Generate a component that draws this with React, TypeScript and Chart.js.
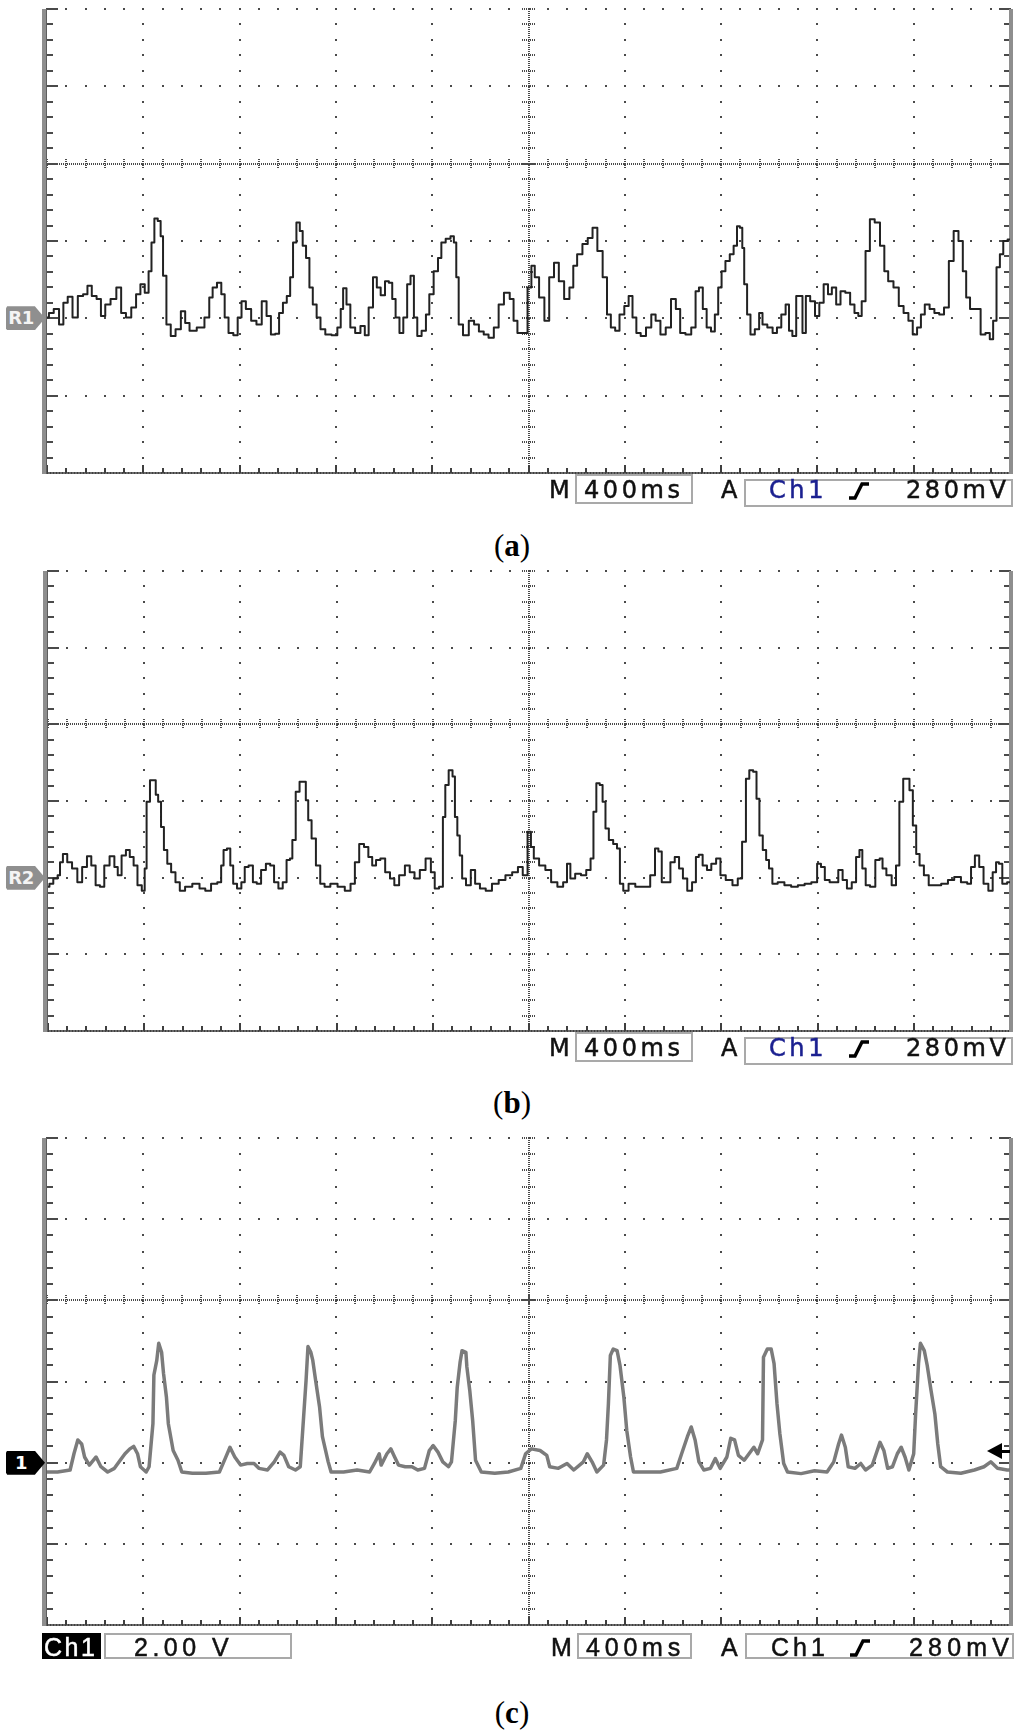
import { useEffect, useRef } from "react";
import { Chart, registerables } from "chart.js";

Chart.register(...registerables);

// ---------------- data (time in divisions of 400 ms, level in vertical divisions) ----------------
const aTime = [
  0, 0.04, 0.1, 0.15, 0.19, 0.24, 0.29, 0.35, 0.4, 0.44,
  0.49, 0.54, 0.58, 0.63, 0.69, 0.75, 0.79, 0.85, 0.9, 0.95,
  0.99, 1.04, 1.07, 1.1, 1.13, 1.17, 1.19, 1.22, 1.26, 1.31,
  1.36, 1.42, 1.45, 1.51, 1.6, 1.67, 1.7, 1.74, 1.79, 1.83,
  1.86, 1.91, 1.96, 2.0, 2.04, 2.09, 2.15, 2.2, 2.26, 2.3,
  2.35, 2.39, 2.43, 2.47, 2.51, 2.54, 2.57, 2.61, 2.64, 2.67,
  2.71, 2.74, 2.78, 2.82, 2.86, 2.92, 2.99, 3.04, 3.06, 3.09,
  3.13, 3.17, 3.23, 3.28, 3.32, 3.36, 3.41, 3.44, 3.49, 3.53,
  3.57, 3.6, 3.64, 3.68, 3.72, 3.76, 3.79, 3.83, 3.86, 3.92,
  3.95, 3.99, 4.04, 4.08, 4.11, 4.17, 4.21, 4.24, 4.26, 4.29,
  4.35, 4.41, 4.46, 4.51, 4.56, 4.61, 4.67, 4.71, 4.78, 4.83,
  4.86, 4.91, 4.97, 5.01, 5.05, 5.08, 5.14, 5.19, 5.24, 5.29,
  5.34, 5.4, 5.45, 5.48, 5.53, 5.59, 5.64, 5.69, 5.74, 5.8,
  5.83, 5.88, 5.92, 5.97, 6.02, 6.06, 6.1, 6.14, 6.19, 6.25,
  6.3, 6.34, 6.4, 6.45, 6.51, 6.55, 6.6, 6.66, 6.72, 6.75,
  6.79, 6.83, 6.87, 6.92, 6.95, 6.99, 7.02, 7.07, 7.11, 7.15,
  7.18, 7.21, 7.23, 7.25, 7.29, 7.32, 7.38, 7.41, 7.45, 7.51,
  7.56, 7.6, 7.65, 7.69, 7.72, 7.76, 7.8, 7.83, 7.86, 7.9,
  7.95, 8.0, 8.04, 8.09, 8.13, 8.17, 8.22, 8.26, 8.32, 8.36,
  8.41, 8.44, 8.48, 8.52, 8.57, 8.62, 8.68, 8.71, 8.76, 8.82,
  8.87, 8.92, 8.97, 9.01, 9.06, 9.09, 9.14, 9.19, 9.24, 9.29,
  9.34, 9.39, 9.44, 9.49, 9.53, 9.56, 9.61, 9.67, 9.72, 9.77,
  9.81, 9.84, 9.88, 9.91, 9.95, 10,
];
const aLevel = [
  0.01, 0.07, 0.12, -0.08, 0.2, 0.28, 0.01, 0.29, 0.31, 0.42,
  0.29, 0.25, 0.03, 0.18, 0.25, 0.4, 0.07, 0.01, 0.14, 0.31,
  0.44, 0.33, 0.61, 0.98, 1.29, 1.26, 1.06, 0.55, -0.08, -0.23,
  -0.14, 0.09, -0.06, -0.16, -0.12, 0.01, 0.27, 0.4, 0.46, 0.31,
  0.01, -0.19, -0.22, 0.01, 0.22, 0.12, -0.03, -0.08, 0.22, 0.03,
  -0.21, -0.2, 0.07, 0.2, 0.29, 0.53, 0.98, 1.24, 1.13, 0.94,
  0.78, 0.4, 0.18, 0.01, -0.14, -0.21, -0.22, -0.12, 0.12, 0.39,
  0.18, -0.12, -0.19, -0.1, -0.22, 0.14, 0.53, 0.4, 0.3, 0.48,
  0.46, 0.25, 0.01, -0.19, 0.01, 0.44, 0.55, 0.01, -0.23, -0.16,
  0.05, 0.31, 0.61, 0.78, 0.98, 1.03, 1.06, 0.98, 0.53, -0.08,
  -0.22, -0.03, -0.08, -0.17, -0.21, -0.25, -0.12, 0.18, 0.33, 0.25,
  -0.03, -0.19, -0.19, 0.4, 0.68, 0.53, 0.27, -0.03, 0.53, 0.72,
  0.48, 0.25, 0.4, 0.68, 0.83, 0.96, 1.04, 1.17, 0.87, 0.53,
  0.05, -0.12, -0.16, 0.05, 0.16, 0.29, 0.01, -0.19, -0.23, -0.12,
  0.05, -0.03, -0.21, -0.12, 0.25, 0.12, -0.19, -0.21, -0.12, 0.35,
  0.4, 0.12, -0.12, -0.17, 0.05, 0.4, 0.61, 0.74, 0.83, 0.94,
  1.19, 1.17, 0.91, 0.44, 0.05, -0.21, -0.14, 0.07, -0.08, -0.12,
  -0.19, -0.12, 0.05, 0.18, -0.16, -0.23, 0.29, 0.29, -0.19, 0.29,
  0.22, 0.03, 0.2, 0.44, 0.31, 0.4, 0.18, 0.35, 0.33, 0.18,
  0.07, 0.03, 0.22, 0.87, 1.28, 1.24, 0.94, 0.61, 0.48, 0.4,
  0.16, 0.07, -0.03, -0.21, -0.12, 0.05, 0.18, 0.12, 0.07, 0.05,
  0.14, 0.74, 1.13, 1.0, 0.61, 0.27, 0.12, 0.12, -0.21, -0.19,
  -0.27, -0.03, 0.66, 0.83, 1.0, 1.02,
];

const bTime = [
  0, 0.03, 0.08, 0.12, 0.13, 0.18, 0.22, 0.28, 0.33, 0.38,
  0.43, 0.47, 0.52, 0.56, 0.61, 0.67, 0.71, 0.74, 0.79, 0.83,
  0.87, 0.91, 0.95, 1.0, 1.01, 1.04, 1.08, 1.11, 1.13, 1.16,
  1.19, 1.22, 1.26, 1.3, 1.35, 1.39, 1.46, 1.54, 1.61, 1.66,
  1.73, 1.79, 1.81, 1.84, 1.88, 1.91, 1.94, 1.99, 2.03, 2.06,
  2.11, 2.15, 2.19, 2.24, 2.29, 2.33, 2.37, 2.42, 2.46, 2.5,
  2.53, 2.55, 2.6, 2.63, 2.67, 2.69, 2.72, 2.76, 2.81, 2.85,
  2.9, 2.97, 3.05, 3.12, 3.17, 3.21, 3.26, 3.31, 3.35, 3.39,
  3.43, 3.48, 3.53, 3.58, 3.62, 3.68, 3.74, 3.78, 3.84, 3.89,
  3.96, 4.0, 4.04, 4.09, 4.12, 4.14, 4.19, 4.22, 4.24, 4.27,
  4.29, 4.32, 4.37, 4.42, 4.46, 4.52, 4.58, 4.65, 4.72, 4.79,
  4.86, 4.91, 4.96, 5.01, 5.03, 5.07, 5.14, 5.2, 5.26, 5.33,
  5.38, 5.41, 5.45, 5.51, 5.57, 5.62, 5.66, 5.68, 5.72, 5.75,
  5.78, 5.81, 5.85, 5.9, 5.93, 5.96, 6.0, 6.07, 6.14, 6.23,
  6.29, 6.33, 6.36, 6.4, 6.45, 6.49, 6.54, 6.58, 6.62, 6.67,
  6.72, 6.75, 6.78, 6.83, 6.87, 6.92, 6.97, 7.01, 7.08, 7.15,
  7.19, 7.24, 7.27, 7.31, 7.35, 7.38, 7.41, 7.45, 7.48, 7.51,
  7.55, 7.62, 7.69, 7.76, 7.83, 7.9, 7.97, 8.02, 8.05, 8.1,
  8.15, 8.19, 8.24, 8.28, 8.33, 8.38, 8.42, 8.45, 8.48, 8.52,
  8.57, 8.63, 8.66, 8.69, 8.74, 8.8, 8.83, 8.87, 8.91, 8.94,
  8.97, 9.01, 9.04, 9.08, 9.13, 9.18, 9.25, 9.32, 9.39, 9.45,
  9.53, 9.58, 9.61, 9.66, 9.7, 9.75, 9.8, 9.84, 9.87, 9.9,
  9.94, 10,
];
const bLevel = [
  -0.12, -0.08, -0.01, 0.03, 0.2, 0.31, 0.2, 0.12, -0.06, 0.14,
  0.28, 0.16, -0.1, -0.12, 0.16, 0.28, 0.14, 0.03, 0.29, 0.36,
  0.27, 0.16, -0.1, -0.17, 0.12, 0.99, 1.27, 1.27, 1.08, 0.99,
  0.66, 0.36, 0.18, 0.07, -0.06, -0.17, -0.12, -0.08, -0.14, -0.17,
  -0.08, -0.06, 0.16, 0.36, 0.38, 0.16, -0.08, -0.14, -0.06, 0.14,
  0.16, -0.06, -0.08, 0.1, 0.18, 0.16, -0.06, -0.14, -0.06, 0.23,
  0.25, 0.49, 1.12, 1.25, 1.25, 1.01, 0.75, 0.51, 0.16, -0.08,
  -0.12, -0.08, -0.12, -0.17, -0.08, 0.2, 0.44, 0.4, 0.27, 0.16,
  0.23, 0.25, 0.07, -0.01, -0.1, 0.03, 0.16, 0.07, -0.01, 0.1,
  0.25, 0.07, -0.14, -0.12, 0.79, 1.21, 1.4, 1.32, 0.79, 0.55,
  0.29, -0.01, -0.1, 0.1, -0.08, -0.14, -0.17, -0.08, -0.03, 0.03,
  0.07, 0.14, 0.03, 0.6, 0.4, 0.25, 0.16, 0.1, -0.06, -0.12,
  -0.06, 0.18, -0.01, 0.05, 0.03, 0.1, 0.25, 0.86, 1.23, 1.21,
  0.99, 0.64, 0.49, 0.44, 0.38, -0.08, -0.17, -0.08, -0.12, -0.12,
  0.03, 0.38, 0.34, -0.06, -0.06, 0.2, 0.27, 0.12, -0.01, -0.17,
  -0.06, 0.27, 0.3, 0.16, 0.1, 0.18, 0.25, 0.03, -0.03, -0.1,
  -0.01, 0.47, 1.29, 1.4, 1.38, 1.03, 0.55, 0.36, 0.23, 0.12,
  -0.08, -0.06, -0.1, -0.12, -0.1, -0.08, -0.06, 0.18, 0.14, -0.03,
  -0.06, -0.06, 0.1, -0.03, -0.14, -0.06, 0.27, 0.36, 0.12, -0.1,
  -0.12, 0.23, 0.25, 0.12, 0.03, -0.1, 0.16, 0.99, 1.29, 1.29,
  1.14, 0.68, 0.31, 0.16, 0.03, -0.1, -0.1, -0.08, -0.03, 0.01,
  -0.06, -0.08, 0.14, 0.29, 0.14, -0.08, -0.17, 0.07, 0.2, 0.18,
  -0.08, -0.06,
];

const cTime = [
  0, 0.11, 0.24, 0.28, 0.32, 0.36, 0.39, 0.44, 0.51, 0.56,
  0.63, 0.7, 0.76, 0.81, 0.86, 0.9, 0.94, 0.97, 1.03, 1.06,
  1.1, 1.11, 1.14, 1.16, 1.19, 1.21, 1.24, 1.26, 1.31, 1.36,
  1.4, 1.51, 1.65, 1.79, 1.85, 1.9, 1.95, 2.01, 2.08, 2.15,
  2.2, 2.29, 2.36, 2.42, 2.46, 2.51, 2.58, 2.63, 2.66, 2.69,
  2.71, 2.74, 2.76, 2.79, 2.83, 2.86, 2.92, 2.95, 3.08, 3.22,
  3.35, 3.4, 3.45, 3.47, 3.53, 3.57, 3.61, 3.65, 3.72, 3.79,
  3.85, 3.92, 3.97, 4.01, 4.06, 4.11, 4.17, 4.2, 4.24, 4.26,
  4.29, 4.31, 4.35, 4.36, 4.39, 4.42, 4.45, 4.51, 4.65, 4.79,
  4.92, 4.97, 5.03, 5.12, 5.19, 5.22, 5.31, 5.4, 5.47, 5.57,
  5.61, 5.66, 5.71, 5.78, 5.81, 5.83, 5.85, 5.88, 5.92, 5.95,
  5.99, 6.02, 6.06, 6.09, 6.23, 6.37, 6.54, 6.59, 6.65, 6.69,
  6.73, 6.77, 6.82, 6.89, 6.94, 6.99, 7.06, 7.1, 7.14, 7.18,
  7.24, 7.29, 7.34, 7.38, 7.43, 7.44, 7.48, 7.52, 7.55, 7.58,
  7.61, 7.65, 7.69, 7.83, 7.97, 8.1, 8.17, 8.22, 8.25, 8.29,
  8.32, 8.39, 8.45, 8.5, 8.57, 8.61, 8.65, 8.69, 8.73, 8.78,
  8.83, 8.87, 8.91, 8.95, 9.0, 9.02, 9.05, 9.07, 9.11, 9.14,
  9.18, 9.22, 9.25, 9.28, 9.35, 9.49, 9.63, 9.73, 9.8, 9.87,
  9.97, 10,
];
const cLevel = [
  -0.115, -0.115, -0.09, 0.11, 0.28, 0.23, 0.07, -0.03, 0.07, -0.05,
  -0.115, -0.07, 0.03, 0.11, 0.17, 0.2, 0.11, -0.05, -0.115, -0.05,
  0.48, 1.08, 1.26, 1.47, 1.36, 1.1, 0.81, 0.48, 0.15, 0.03,
  -0.115, -0.13, -0.13, -0.115, 0.05, 0.19, 0.07, -0.03, -0.01, -0.01,
  -0.07, -0.09, 0.01, 0.13, 0.09, -0.05, -0.09, -0.05, 0.48, 1.01,
  1.43, 1.36, 1.26, 1.01, 0.69, 0.32, 0.01, -0.115, -0.115, -0.09,
  -0.115, -0.01, 0.11, -0.03, 0.11, 0.17, 0.07, -0.03, -0.05, -0.05,
  -0.09, -0.07, 0.15, 0.21, 0.13, 0.01, -0.05, 0.01, 0.52, 0.93,
  1.24, 1.38, 1.36, 1.18, 0.89, 0.52, 0.03, -0.115, -0.13, -0.115,
  -0.07, 0.11, 0.17, 0.15, 0.09, -0.05, -0.07, -0.01, -0.09, 0.01,
  0.11, 0.01, -0.115, -0.03, 0.28, 0.73, 1.32, 1.4, 1.38, 1.2,
  0.81, 0.4, 0.07, -0.115, -0.115, -0.115, -0.07, 0.11, 0.32, 0.44,
  0.28, 0.01, -0.09, -0.07, 0.05, -0.07, 0.07, 0.3, 0.28, 0.09,
  0.03, 0.11, 0.19, 0.11, 0.28, 1.3, 1.4, 1.4, 1.22, 0.73,
  0.36, -0.01, -0.115, -0.135, -0.1, -0.115, 0.01, 0.23, 0.34, 0.19,
  -0.05, -0.07, -0.01, -0.09, -0.03, 0.11, 0.25, 0.15, -0.07, -0.05,
  0.11, 0.19, 0.07, -0.09, 0.11, 0.6, 1.22, 1.47, 1.38, 1.2,
  0.89, 0.6, 0.23, -0.05, -0.115, -0.13, -0.09, -0.05, 0.01, -0.07,
  -0.09, -0.09,
];

// trigger level of Ch1 (280 mV at 2.00 V/div) in divisions
const cTriggerLevel = 0.28 / 2.0;

// ---------------- axes ----------------
const X_MIN = 0;
const X_MAX = 10;
const Y_MIN = -2;
const Y_MAX = 4;
const X_CENTER = 5;
const Y_CENTER = 2;
const MINOR = 5;

type Panel = { left: number; right: number; top: number; bottom: number };
const PANEL_A: Panel = { left: 47, right: 1010, top: 9, bottom: 473 };
const PANEL_B: Panel = { left: 48, right: 1010, top: 571, bottom: 1031 };
const PANEL_C: Panel = { left: 47, right: 1010, top: 1138, bottom: 1625 };
const PAD = 10;
const PAGE_W = 1024;

const scopeGrid = {
  id: "scopeGrid",
  beforeDatasetsDraw(chart: any) {
    const { ctx, chartArea: a, scales } = chart;
    const xs = scales.x;
    const ys = scales.y;
    const px = (v: number) => Math.round(xs.getPixelForValue(v));
    const py = (v: number) => Math.round(ys.getPixelForValue(v));
    const nx = (X_MAX - X_MIN) * MINOR;
    const ny = (Y_MAX - Y_MIN) * MINOR;
    ctx.save();
    ctx.fillStyle = "#4a4a4a";
    // regular vertical grid lines (dotted)
    for (let g = X_MIN + 1; g < X_MAX; g++) {
      if (g === X_CENTER) continue;
      const x = px(g);
      for (let k = 0; k <= ny; k++) ctx.fillRect(x - 1, py(Y_MIN + k / MINOR) - 1, 2, 2);
    }
    // regular horizontal grid lines (dotted), top edge included
    for (let g = Y_MIN + 1; g <= Y_MAX; g++) {
      if (g === Y_CENTER) continue;
      const y = py(g);
      for (let k = 0; k <= nx; k++) ctx.fillRect(px(X_MIN + k / MINOR) - 1, y - 1, 2, 2);
    }
    // centre vertical line with cross ticks
    const cx = px(X_CENTER);
    for (let y = a.top; y <= a.bottom; y += 2) ctx.fillRect(cx - 1, y, 2, 1);
    for (let k = 0; k <= ny; k++) {
      const y = py(Y_MIN + k / MINOR);
      for (let d = -7; d <= 6; d += 2) ctx.fillRect(cx + d, y - 1, 1, 2);
    }
    // centre horizontal line with cross ticks
    const cy = py(Y_CENTER);
    for (let x = a.left; x <= a.right; x += 2) ctx.fillRect(x, cy - 1, 1, 2);
    for (let k = 0; k <= nx; k++) {
      const x = px(X_MIN + k / MINOR);
      for (let d = -5; d <= 4; d += 2) ctx.fillRect(x - 1, cy + d, 2, 1);
    }
    // left / right edge ticks
    for (let k = 0; k <= ny; k++) {
      const y = py(Y_MIN + k / MINOR);
      const len = k % MINOR === 0 ? 11 : 6;
      ctx.fillRect(a.left, y - 1, len, 2);
      ctx.fillRect(a.right - len, y - 1, len, 2);
    }
    // bottom edge with ticks
    ctx.fillStyle = "#6a6a6a";
    ctx.fillRect(a.left, a.bottom - 1, a.right - a.left, 2);
    ctx.fillStyle = "#3f3f3f";
    for (let x = a.left; x <= a.right; x += 3) ctx.fillRect(x, a.bottom - 1, 1, 2);
    for (let k = 0; k <= nx; k++) {
      const x = px(X_MIN + k / MINOR);
      ctx.fillRect(x - 1, a.bottom - (k % MINOR === 0 ? 8 : 5), 2, k % MINOR === 0 ? 8 : 5);
    }
    // thick side frames
    ctx.fillStyle = "#8e8e8e";
    ctx.fillRect(a.left - 5, a.top, 5, a.bottom - a.top + 1);
    ctx.fillRect(a.right - 1, a.top, 4, a.bottom - a.top + 1);
    ctx.fillStyle = "#5e5e5e";
    ctx.fillRect(a.left - 1, a.top, 1, a.bottom - a.top + 1);
    ctx.restore();
  },
  afterDatasetsDraw(chart: any, _args: any, opts: any) {
    if (opts == null || opts.trigger == null) return;
    const { ctx, chartArea: a, scales } = chart;
    const y = Math.round(scales.y.getPixelForValue(opts.trigger));
    ctx.save();
    ctx.fillStyle = "#000";
    ctx.beginPath();
    ctx.moveTo(a.right - 23, y);
    ctx.lineTo(a.right - 8, y - 8);
    ctx.lineTo(a.right - 8, y + 8);
    ctx.closePath();
    ctx.fill();
    ctx.fillRect(a.right - 10, y - 1, 10, 3);
    ctx.restore();
  },
};

type ScopeProps = {
  panel: Panel;
  time: number[];
  level: number[];
  color: string;
  width: number;
  stepped: false | "middle";
  trigger?: number | null;
};

function ScopeChart({ panel, time, level, color, width, stepped, trigger = null }: ScopeProps) {
  const ref = useRef<HTMLCanvasElement | null>(null);
  const h = panel.bottom - panel.top + 2 * PAD;
  useEffect(() => {
    if (!ref.current) return;
    const chart = new Chart(ref.current, {
      type: "line",
      data: {
        datasets: [
          {
            data: time.map((t, i) => ({ x: t, y: level[i] })),
            borderColor: color,
            borderWidth: width,
            pointRadius: 0,
            tension: 0,
            stepped: stepped,
            fill: false,
            borderJoinStyle: "round",
          } as any,
        ],
      },
      options: {
        animation: false,
        responsive: false,
        maintainAspectRatio: false,
        events: [],
        layout: {
          padding: { left: panel.left, right: PAGE_W - panel.right, top: PAD, bottom: PAD },
        },
        scales: {
          x: { type: "linear", min: X_MIN, max: X_MAX, display: false },
          y: { type: "linear", min: Y_MIN, max: Y_MAX, display: false },
        },
        plugins: {
          legend: { display: false },
          tooltip: { enabled: false },
          scopeGrid: { trigger },
        } as any,
      },
      plugins: [scopeGrid as any],
    });
    return () => chart.destroy();
  }, []);
  return (
    <canvas
      ref={ref}
      width={PAGE_W}
      height={h}
      style={{ position: "absolute", left: 0, top: panel.top - PAD, width: PAGE_W, height: h }}
    />
  );
}

// ---------------- text helpers ----------------
const DV = '"DejaVu Sans", Verdana, sans-serif';
const LS_FONT = '"Liberation Sans", Arial, sans-serif';

function T(props: {
  x: number;
  base: number;
  size?: number;
  family?: string;
  color?: string;
  ls?: number;
  asc?: number;
  desc?: number;
  bold?: boolean;
  children: any;
}) {
  const { x, base, size = 24, family = DV, color = "#111", ls = 3.6, asc = 0.928, desc = 0.236, bold = false } = props;
  const lead = (size - (asc + desc) * size) / 2;
  const top = base - (lead + asc * size);
  return (
    <div
      style={{
        position: "absolute",
        left: x,
        top,
        fontFamily: family,
        fontSize: size,
        lineHeight: `${size}px`,
        letterSpacing: ls,
        color,
        whiteSpace: "nowrap",
        fontWeight: bold ? 700 : 400,
        WebkitTextStroke: `0.5px ${color}`,
      }}
    >
      {props.children}
    </div>
  );
}

function Box({ x1, y1, x2, y2, bg = "transparent", border = "#a9a9a9" }: any) {
  return (
    <div
      style={{
        position: "absolute",
        left: x1,
        top: y1,
        width: x2 - x1,
        height: y2 - y1,
        boxSizing: "border-box",
        border: `2px solid ${border}`,
        background: bg,
      }}
    />
  );
}

function Edge({ x, y }: { x: number; y: number }) {
  return (
    <svg
      width={24}
      height={18}
      style={{ position: "absolute", left: x, top: y }}
      viewBox="0 0 24 18"
    >
      <path d="M1 16 H7 L14 2 H21" fill="none" stroke="#000" strokeWidth={3.4} strokeLinejoin="miter" />
    </svg>
  );
}

function Marker({ panel, label, bg, fg }: { panel: Panel; label: string; bg: string; fg: string }) {
  const lvl = panel.top + ((Y_MAX - 0) / (Y_MAX - Y_MIN)) * (panel.bottom - panel.top);
  return (
    <div
      style={{
        position: "absolute",
        left: 6,
        top: lvl - 12,
        width: 39,
        height: 24,
        background: bg,
        clipPath: "polygon(0 8%, 3% 0, 74% 0, 100% 50%, 74% 100%, 3% 100%, 0 92%)",
      }}
    >
      <div
        style={{
          position: "absolute",
          left: 0,
          top: 0,
          width: 30,
          height: 24,
          lineHeight: "24px",
          textAlign: "center",
          color: fg,
          fontFamily: DV,
          fontWeight: 700,
          fontSize: 18,
          letterSpacing: -0.5,
        }}
      >
        {label}
      </div>
    </div>
  );
}

function StatusAB({ panel }: { panel: Panel }) {
  const b = panel.bottom;
  const base = b + 25;
  return (
    <>
      <Box x1={575} y1={b + 1} x2={693} y2={b + 31} />
      <Box x1={744} y1={b + 6} x2={1013} y2={b + 34} />
      <T x={549} base={base} ls={0}>M</T>
      <T x={584} base={base}>400ms</T>
      <T x={721} base={base} ls={0}>A</T>
      <T x={769} base={base} color="#1b2090">Ch1</T>
      <Edge x={848} y={b + 9} />
      <T x={906} base={base}>280mV</T>
    </>
  );
}

function StatusC({ panel }: { panel: Panel }) {
  const b = panel.bottom;
  const base = b + 31;
  const f = { family: LS_FONT, size: 25, asc: 0.905, desc: 0.212 };
  return (
    <>
      <Box x1={42} y1={b + 8} x2={101} y2={b + 34} bg="#000" border="#000" />
      <T x={44} base={base} {...f} ls={2.5} color="#fff">Ch1</T>
      <Box x1={104} y1={b + 8} x2={292} y2={b + 34} />
      <T x={134} base={base} {...f} ls={4.5}>2.00 V</T>
      <T x={551} base={base} {...f} ls={0}>M</T>
      <Box x1={577} y1={b + 8} x2={692} y2={b + 34} />
      <T x={586} base={base} {...f} ls={4.8}>400ms</T>
      <T x={721} base={base} {...f} ls={0}>A</T>
      <Box x1={745} y1={b + 8} x2={1014} y2={b + 34} />
      <T x={771} base={base} {...f} ls={4}>Ch1</T>
      <Edge x={849} y={b + 14} />
      <T x={909} base={base} {...f} ls={5.2}>280mV</T>
    </>
  );
}

function Caption({ base, letter }: { base: number; letter: string }) {
  return (
    <div
      style={{
        position: "absolute",
        left: 0,
        width: PAGE_W,
        top: base - 26,
        textAlign: "center",
        fontFamily: '"Liberation Serif", "Times New Roman", serif',
        fontSize: 31,
        lineHeight: "31px",
        color: "#000",
      }}
    >
      (<b>{letter}</b>)
    </div>
  );
}

export default function App() {
  return (
    <div
      style={{
        position: "absolute",
        left: 0,
        top: 0,
        width: PAGE_W,
        height: 1736,
        background: "#fff",
        overflow: "hidden",
      }}
    >
      <ScopeChart panel={PANEL_A} time={aTime} level={aLevel} color="#222" width={2} stepped="middle" />
      <Marker panel={PANEL_A} label="R1" bg="#8f8f8f" fg="#f4f4f4" />
      <StatusAB panel={PANEL_A} />
      <Caption base={556} letter="a" />

      <ScopeChart panel={PANEL_B} time={bTime} level={bLevel} color="#222" width={2} stepped="middle" />
      <Marker panel={PANEL_B} label="R2" bg="#8f8f8f" fg="#f4f4f4" />
      <StatusAB panel={PANEL_B} />
      <Caption base={1113} letter="b" />

      <ScopeChart
        panel={PANEL_C}
        time={cTime}
        level={cLevel}
        color="#7b7b7b"
        width={3.5}
        stepped={false}
        trigger={cTriggerLevel}
      />
      <Marker panel={PANEL_C} label="1" bg="#000" fg="#fff" />
      <StatusC panel={PANEL_C} />
      <Caption base={1723} letter="c" />
    </div>
  );
}
